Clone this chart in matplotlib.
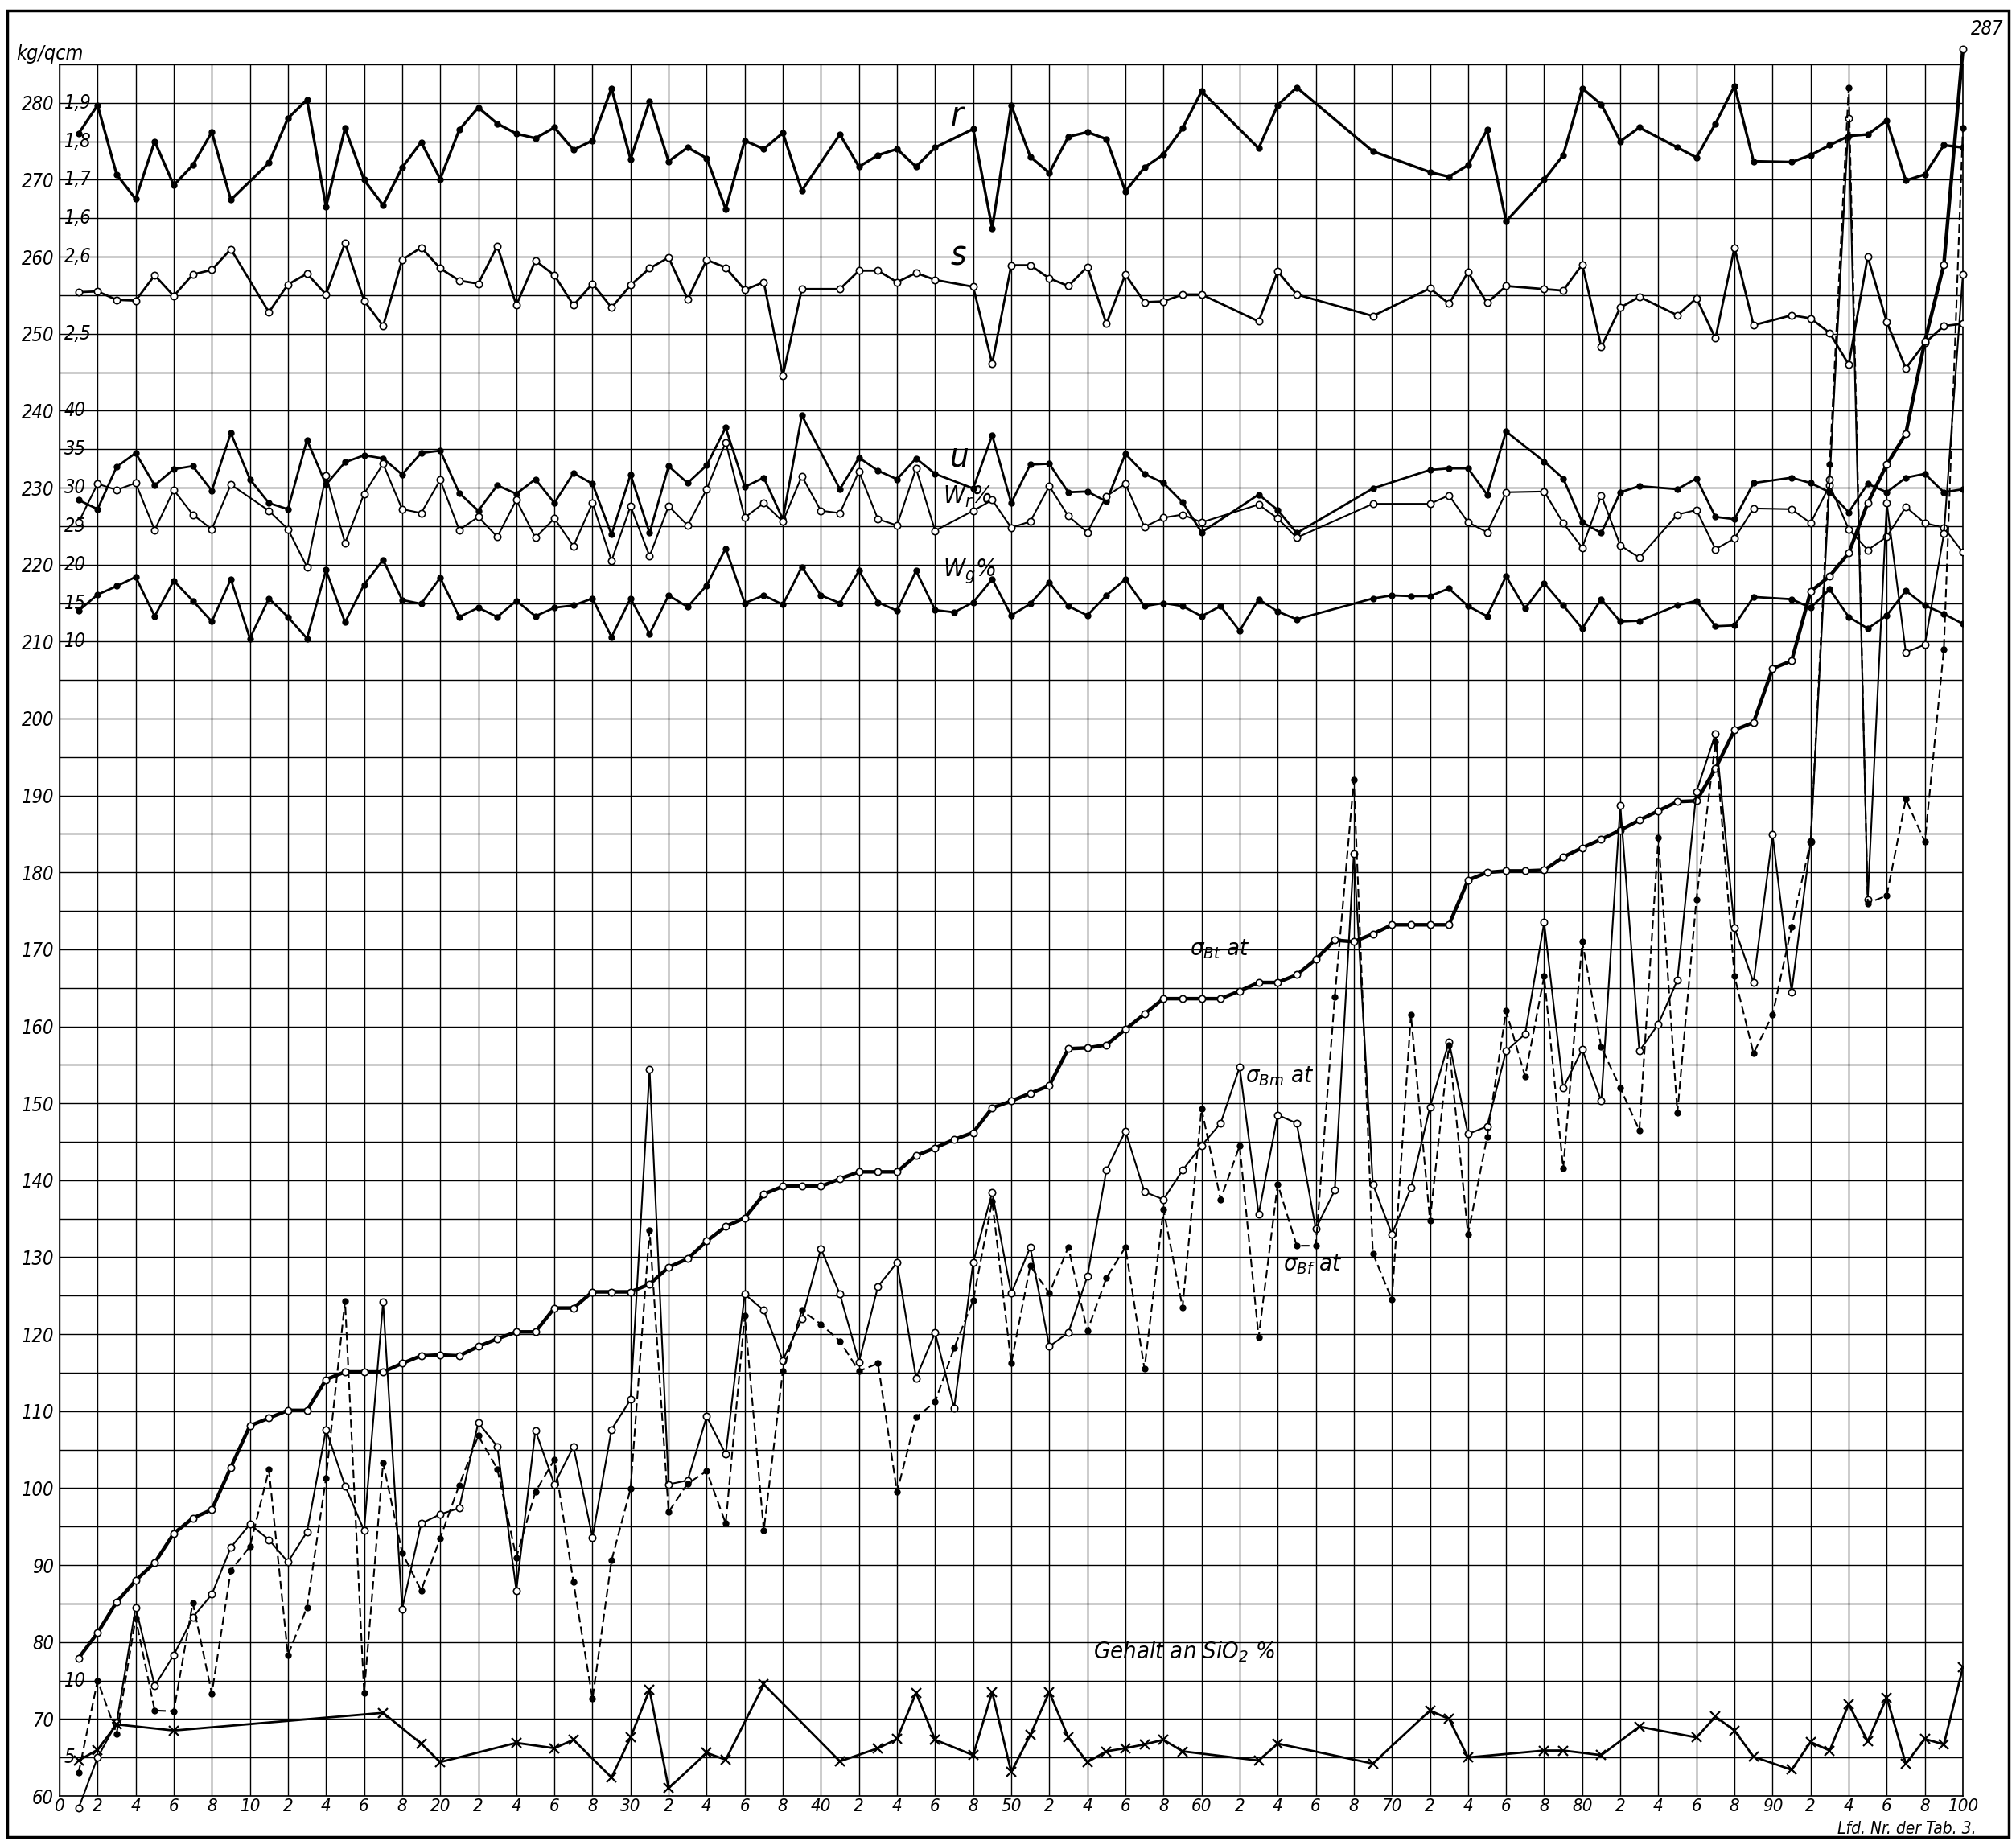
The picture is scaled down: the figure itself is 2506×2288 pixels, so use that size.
import matplotlib
matplotlib.use("Agg")
import matplotlib.pyplot as plt
from matplotlib.patches import Rectangle

plt.rcParams['font.family'] = ['DejaVu Sans']
plt.rcParams['font.stretch'] = 'condensed'
plt.rcParams['font.style'] = 'italic'
plt.rcParams['mathtext.fontset'] = 'dejavusans'
plt.rcParams['mathtext.default'] = 'it'

# ---------------- data (chart units, kg/qcm scale) ----------------
r_x = [1,2,3,4,5,6,7,8,9,11,12,13,14,15,16,17,18,19,20,21,22,23,24,25,26,27,28,29,30,31,32,33,34,35,36,37,38,39,
       41,42,43,44,45,46,48,49,50,51,52,53,54,55,56,57,58,59,60,63,64,65,69,72,73,74,75,76,78,79,80,81,82,83,
       85,86,87,88,89,91,92,93,94,95,96,97,98,99,100]
r_y = [276.0,279.7,270.7,267.5,275.0,269.3,271.9,276.2,267.4,272.2,278.0,280.4,266.5,276.7,270.0,266.7,271.6,274.9,270.1,
       276.5,279.4,277.3,276.0,275.4,276.8,273.9,275.1,281.9,272.7,280.2,272.4,274.2,272.8,266.2,275.1,274.0,276.1,268.6,
       275.9,271.7,273.2,274.0,271.7,274.2,276.6,263.7,279.7,273.0,270.9,275.6,276.2,275.3,268.5,271.6,273.3,276.7,281.5,
       274.1,279.7,282.0,273.7,271.0,270.4,271.9,276.5,264.6,270.0,273.2,281.9,279.8,275.0,276.8,
       274.2,272.9,277.3,282.2,272.4,272.3,273.2,274.5,275.7,275.9,277.7,269.9,270.7,274.5,274.2]

s_x = r_x
s_y = [255.4,255.5,254.4,254.3,257.6,254.9,257.7,258.3,261.0,252.8,256.4,257.8,255.1,261.8,254.3,251.0,259.6,261.2,258.5,
       256.9,256.5,261.4,253.7,259.5,257.6,253.7,256.5,253.4,256.3,258.5,259.9,254.5,259.6,258.6,255.7,256.7,244.5,255.8,
       255.8,258.2,258.2,256.7,257.9,257.0,256.1,246.1,258.9,258.9,257.2,256.2,258.7,251.3,257.7,254.1,254.2,255.1,255.1,
       251.6,258.1,255.1,252.3,255.9,253.9,258.0,254.0,256.2,255.8,255.6,259.0,248.3,253.4,254.8,
       252.4,254.6,249.4,261.2,251.1,252.4,252.0,250.1,246.0,260.0,251.5,245.5,248.8,251.0,251.3]

u_x = [1,2,3,4,5,6,7,8,9,10,11,12,13,14,15,16,17,18,19,20,21,22,23,24,25,26,27,28,29,30,31,32,33,34,35,36,37,38,39,
       41,42,43,44,45,46,48,49,50,51,52,53,54,55,56,57,58,59,60,63,64,65,69,72,73,74,75,76,78,79,80,81,82,83,
       85,86,87,88,89,91,92,93,94,95,96,97,98,99,100]
u_y = [228.4,227.2,232.7,234.5,230.3,232.4,232.8,229.6,237.1,231.1,228.0,227.2,236.2,230.4,233.3,234.2,233.8,231.7,234.5,
       234.8,229.3,227.0,230.3,229.2,231.1,228.0,231.9,230.5,223.9,231.7,224.1,232.8,230.6,232.9,237.8,230.1,231.3,225.9,239.4,
       229.8,233.9,232.2,231.1,233.8,231.8,229.9,236.8,228.0,233.0,233.1,229.4,229.5,228.2,234.4,231.8,230.6,228.1,224.2,
       229.1,227.1,224.1,229.9,232.3,232.5,232.5,229.1,237.3,233.4,231.2,225.5,224.1,229.4,230.2,
       229.8,231.2,226.2,225.9,230.6,231.3,230.6,229.4,226.8,230.5,229.4,231.3,231.8,229.4,229.8]

wr_x = [1,2,3,4,5,6,7,8,9,11,12,13,14,15,16,17,18,19,20,21,22,23,24,25,26,27,28,29,30,31,32,33,34,35,36,37,38,39,40,
        41,42,43,44,45,46,48,49,50,51,52,53,54,55,56,57,58,59,60,63,64,65,69,72,73,74,75,76,78,79,80,81,82,83,
        85,86,87,88,89,91,92,93,94,95,96,97,98,99,100]
wr_y = [225.5,230.5,229.7,230.6,224.5,229.7,226.5,224.6,230.4,227.0,224.6,219.7,231.6,222.8,229.2,233.1,227.2,226.7,231.0,
        224.5,226.2,223.6,228.4,223.5,226.0,222.4,228.0,220.5,227.6,221.1,227.6,225.1,229.8,235.9,226.1,228.0,225.6,231.5,227.0,
        226.7,232.1,225.9,225.1,232.5,224.4,227.0,228.4,224.8,225.6,230.2,226.3,224.2,228.9,230.5,224.9,226.1,226.5,225.5,
        227.8,226.0,223.5,227.9,227.9,229.0,225.5,224.2,229.4,229.5,225.4,222.2,229.0,222.5,220.9,
        226.5,227.1,222.0,223.4,227.3,227.2,225.4,230.3,224.6,221.9,223.6,227.5,225.4,224.8,221.6]

wg_x = [1,2,3,4,5,6,7,8,9,10,11,12,13,14,15,16,17,18,19,20,21,22,23,24,25,26,27,28,29,30,31,32,33,34,35,36,37,38,39,40,
        41,42,43,44,45,46,47,48,49,50,51,52,53,54,55,56,57,58,59,60,61,62,63,64,65,69,70,71,72,73,74,75,76,77,78,79,80,
        81,82,83,85,86,87,88,89,91,92,93,94,95,96,97,98,99,100]
wg_y = [214.0,216.1,217.2,218.4,213.3,217.9,215.3,212.6,218.1,210.4,215.6,213.2,210.4,219.3,212.5,217.4,220.6,215.4,214.9,
        218.3,213.2,214.4,213.2,215.3,213.3,214.4,214.7,215.6,210.6,215.6,211.0,216.0,214.5,217.3,222.1,215.0,216.0,214.8,
        219.7,216.0,215.0,219.2,215.1,214.0,219.2,214.1,213.8,215.1,218.1,213.4,214.9,217.7,214.6,213.4,216.0,218.1,214.6,
        215.0,214.6,213.3,214.6,211.4,215.5,213.9,212.9,215.6,216.0,215.9,215.9,216.9,214.6,213.3,218.5,214.3,217.6,214.7,
        211.7,215.5,212.6,212.7,214.7,215.3,212.0,212.1,215.8,215.5,214.4,216.8,213.2,211.7,213.4,216.6,214.7,213.6,212.3]

sig_x = list(range(1, 101))
sbt_y = [77.9,81.2,85.2,88.0,90.3,94.1,96.1,97.2,102.7,108.1,109.1,110.1,110.1,114.1,115.1,115.1,115.1,116.2,117.2,117.3,
         117.2,118.4,119.4,120.3,120.3,123.4,123.4,125.5,125.5,125.5,126.5,128.7,129.8,132.1,134.0,135.1,138.2,139.2,139.3,139.2,
         140.2,141.1,141.1,141.1,143.2,144.2,145.3,146.2,149.4,150.3,151.3,152.3,157.1,157.2,157.6,159.6,161.6,163.6,163.6,163.6,
         163.6,164.6,165.7,165.7,166.7,168.7,171.2,171.0,172.0,173.2,173.2,173.2,173.2,179.0,180.0,180.2,180.2,180.3,182.0,183.2,
         184.3,185.5,186.8,188.0,189.2,189.3,193.5,198.5,199.5,206.5,207.5,216.5,218.5,221.5,228.0,233.0,237.0,249.0,259.0,287.0]
sbm_y = [58.4,65.0,69.5,84.5,74.3,78.3,83.2,86.2,92.3,95.3,93.3,90.4,94.3,107.6,100.3,94.5,124.2,84.3,95.4,96.6,
         97.4,108.5,105.4,86.7,107.5,100.5,105.4,93.6,107.6,111.5,154.4,100.5,101.0,109.3,104.4,125.2,123.1,116.6,122.0,131.1,
         125.2,116.4,126.2,129.3,114.3,120.2,110.4,129.3,138.4,125.3,131.3,118.4,120.2,127.5,141.3,146.4,138.5,137.5,141.3,144.5,
         147.4,154.7,135.6,148.5,147.4,133.7,138.7,182.4,139.5,133.0,139.0,149.5,158.0,146.0,147.0,156.8,159.0,173.5,152.0,157.0,
         150.3,188.7,156.8,160.3,166.0,190.5,198.0,172.8,165.7,184.9,164.5,184.0,231.0,278.0,176.5,228.0,208.6,209.6,224.0,257.7]
sbf_y = [63.0,75.0,68.1,83.1,71.1,71.0,85.1,73.3,89.3,92.4,102.4,78.3,84.5,101.3,124.3,73.4,103.3,91.6,86.7,93.5,
         100.4,106.8,102.5,91.0,99.5,103.7,87.8,72.6,90.6,99.9,133.5,96.9,100.6,102.2,95.4,122.4,94.5,115.2,123.1,121.3,
         119.1,115.2,116.2,99.5,109.2,111.2,118.2,124.4,137.3,116.2,128.9,125.3,131.3,120.4,127.3,131.3,115.5,136.2,123.5,149.3,
         137.5,144.5,119.6,139.5,131.5,131.5,163.8,192.0,130.5,124.5,161.5,134.8,157.5,133.0,145.6,162.0,153.5,166.5,141.5,171.0,
         157.3,152.0,146.5,184.5,148.8,176.5,197.0,166.5,156.5,161.5,172.9,184.0,233.0,282.0,176.0,177.0,189.5,184.0,209.0,276.7]

si_x = [1,2,3,6,17,19,20,24,26,27,29,30,31,32,34,35,37,41,43,44,45,46,48,49,50,51,52,53,54,55,56,57,58,59,63,64,
        69,72,73,74,78,79,81,83,86,87,88,89,91,92,93,94,95,96,97,98,99,100]
si_y = [64.6,66.0,69.3,68.5,70.8,66.8,64.4,66.9,66.2,67.3,62.4,67.6,73.8,61.0,65.6,64.7,74.5,64.5,66.2,67.4,73.4,67.3,
        65.3,73.5,63.1,67.9,73.5,67.6,64.4,65.8,66.2,66.7,67.3,65.8,64.6,66.8,
        64.2,71.1,70.0,65.0,65.9,65.9,65.3,69.0,67.6,70.3,68.5,65.1,63.4,67.0,65.9,71.9,67.1,72.8,64.2,67.4,66.7,76.7]

y_major = list(range(60, 290, 10))
y_inner = {280: '1,9', 275: '1,8', 270: '1,7', 265: '1,6', 260: '2,6', 250: '2,5',
           240: '40', 235: '35', 230: '30', 225: '25', 220: '20', 215: '15', 210: '10',
           75: '10', 65: '5'}
x_ticks = list(range(0, 101, 2))
x_labels = [str(v) if v % 10 == 0 else str(v % 10) for v in x_ticks]

# ---------------- figure ----------------
W, H = 2506, 2288
fig = plt.figure(figsize=(W / 100, H / 100), dpi=100)
fig.patch.set_facecolor('white')
ax = fig.add_axes([74 / W, 56 / H, 2366 / W, 2152 / H])
ax.set_xlim(0, 100)
ax.set_ylim(60, 285)

for v in range(0, 101, 2):
    ax.axvline(v, color='black', lw=1.0, zorder=1)
for v in range(60, 286, 5):
    ax.axhline(v, color='black', lw=1.0, zorder=1)
for sp in ax.spines.values():
    sp.set_linewidth(1.2)

ax.set_xticks(x_ticks)
ax.set_xticklabels(x_labels, fontsize=16, style='italic')
ax.set_yticks(y_major)
ax.set_yticklabels([str(v) for v in y_major], fontsize=17, style='italic')
ax.tick_params(axis='x', length=0, pad=2)
ax.tick_params(axis='y', length=0, pad=5)

for v, t in y_inner.items():
    ax.text(0.25, v, t, fontsize=17, ha='left', va='center', style='italic', zorder=3)

lw_thin = 1.5
lw_mid = 2.0
filled = dict(marker='o', ms=5, mfc='black', mec='black')
opened = dict(marker='o', ms=6, mfc='white', mec='black', mew=1.2)

ax.plot(r_x, r_y, color='black', lw=2.4, zorder=4, **filled)
ax.plot(s_x, s_y, color='black', lw=lw_mid, zorder=4, **opened)
ax.plot(u_x, u_y, color='black', lw=lw_mid, zorder=4, **filled)
ax.plot(wr_x, wr_y, color='black', lw=lw_thin, zorder=4, **opened)
ax.plot(wg_x, wg_y, color='black', lw=lw_mid, zorder=4, **filled)

ax.plot(sig_x, sbt_y, color='black', lw=3.2, zorder=5, clip_on=False, **opened)
ax.plot(sig_x, sbm_y, color='black', lw=lw_thin, zorder=5, clip_on=False, **opened)
ax.plot(sig_x, sbf_y, color='black', lw=lw_thin, ls=(0, (5, 2.5)), zorder=5, clip_on=False, **filled)
ax.plot(si_x, si_y, color='black', lw=lw_mid, zorder=5, marker='x', ms=8, mew=1.6)

# ---------------- labels ----------------
ax.text(46.8, 278.3, 'r', fontsize=30, ha='left', va='center')
ax.text(46.8, 260.2, 's', fontsize=30, ha='left', va='center')
ax.text(46.8, 234.0, 'u', fontsize=30, ha='left', va='center')
ax.text(46.4, 228.8, r'$W_r$%', fontsize=22, ha='left', va='center')
ax.text(46.4, 219.2, r'$W_g$%', fontsize=22, ha='left', va='center')
ax.text(59.4, 170.0, r'$\sigma_{Bt}$ at', fontsize=21, ha='left', va='center')
ax.text(62.3, 153.5, r'$\sigma_{Bm}$ at', fontsize=21, ha='left', va='center')
ax.text(64.3, 129.0, r'$\sigma_{Bf}$ at', fontsize=21, ha='left', va='center')
ax.text(54.3, 78.8, r'Gehalt an Si$O_2$ %', fontsize=21, ha='left', va='center')
ax.text(100.4, 289.6, '287', fontsize=17, ha='left', va='center', clip_on=False)
ax.text(100.7, 55.75, 'Lfd. Nr. der Tab. 3.', fontsize=15, ha='right', va='center', clip_on=False)
fig.text(20 / W, 1 - 67 / H, 'kg/qcm', fontsize=18, ha='left', va='center', style='italic')

fig.patches.append(Rectangle((9 / W, 5 / H), 2488 / W, 2270 / H, transform=fig.transFigure,
                             fill=False, lw=2.5, edgecolor='black'))

fig.savefig('out.png', dpi=100, facecolor='white')
